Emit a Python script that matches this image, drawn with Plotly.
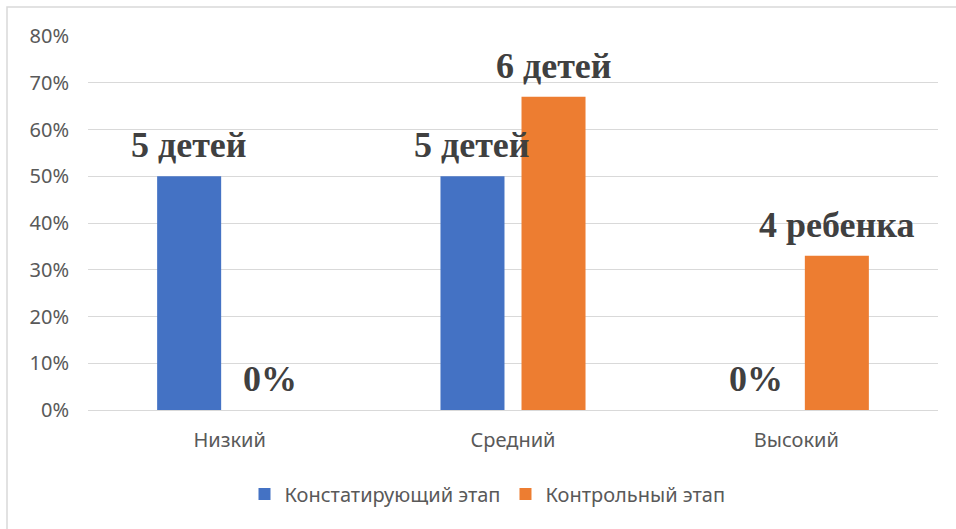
import plotly.graph_objects as go

categories = ["Низкий", "Средний", "Высокий"]
series_names = ["Констатирующий этап", "Контрольный этап"]
stage1_values = [0.50, 0.50, 0.0]
stage2_values = [0.0, 0.67, 0.33]
stage1_labels = ["5 детей", "5 детей", "0%"]
stage2_labels = ["0%", "6 детей", "4 ребенка"]
tick_vals = [0, 0.1, 0.2, 0.3, 0.4, 0.5, 0.6, 0.7, 0.8]
tick_text = ["0%", "10%", "20%", "30%", "40%", "50%", "60%", "70%", "80%"]

colors = ["#4472C4", "#ED7D31"]
label_font = dict(family="Liberation Serif", size=36, color="#404040")

W, H = 956, 529
L, R, T, B = 88, 18, 36, 119
pw, ph = W - L - R, H - T - B
bargap, bargroupgap = 0.428, 0.21
slot_half = (pw / len(categories)) * (1 - bargap) / 4  # half of one bar slot, px

fig = go.Figure()
series = [
    (series_names[0], stage1_values, stage1_labels, colors[0], -slot_half),
    (series_names[1], stage2_values, stage2_labels, colors[1], slot_half),
]
for name, vals, labels, col, shift in series:
    fig.add_trace(go.Bar(x=categories, y=vals, name=name, marker_color=col,
                         marker_line_width=0))
    for c, v, t in zip(categories, vals, labels):
        fig.add_annotation(x=c, y=v, xref="x", yref="y", text="<b>" + t + "</b>",
                           showarrow=False, xanchor="center", yanchor="bottom",
                           xshift=shift, yshift=9, font=label_font)

fig.update_layout(
    width=W, height=H,
    margin=dict(l=L, r=R, t=T, b=B),
    barmode="group", bargap=bargap, bargroupgap=bargroupgap,
    plot_bgcolor="white", paper_bgcolor="white",
    font=dict(family="Noto Sans", size=20, color="#595959"),
    showlegend=True,
    legend=dict(orientation="h", x=0.47, xanchor="center", y=(410 - 494) / ph,
                yanchor="middle", font=dict(size=20, color="#595959")),
)
fig.update_yaxes(range=[0, 0.8], tickvals=tick_vals, ticktext=tick_text,
                 showgrid=True, gridcolor="#D9D9D9", gridwidth=1,
                 zeroline=False, showline=False, ticks="",
                 ticklabelstandoff=18, tickfont=dict(size=20, color="#595959"))
fig.update_xaxes(showgrid=False, zeroline=False, showline=True, linecolor="#D9D9D9",
                 ticks="", ticklabelstandoff=12, tickfont=dict(size=20, color="#595959"))

# outer chart border (only top/left edges visible in the crop)
fig.add_shape(type="rect", xref="paper", yref="paper",
              x0=(7 - L) / pw, x1=(970 - L) / pw,
              y0=(H - B - 545) / ph, y1=(H - B - 7) / ph,
              line=dict(color="#D9D9D9", width=1.5), fillcolor="rgba(0,0,0,0)", layer="below")

fig.write_html("out.html", config={"displayModeBar": False},
               post_script="document.body.style.margin='0';")
